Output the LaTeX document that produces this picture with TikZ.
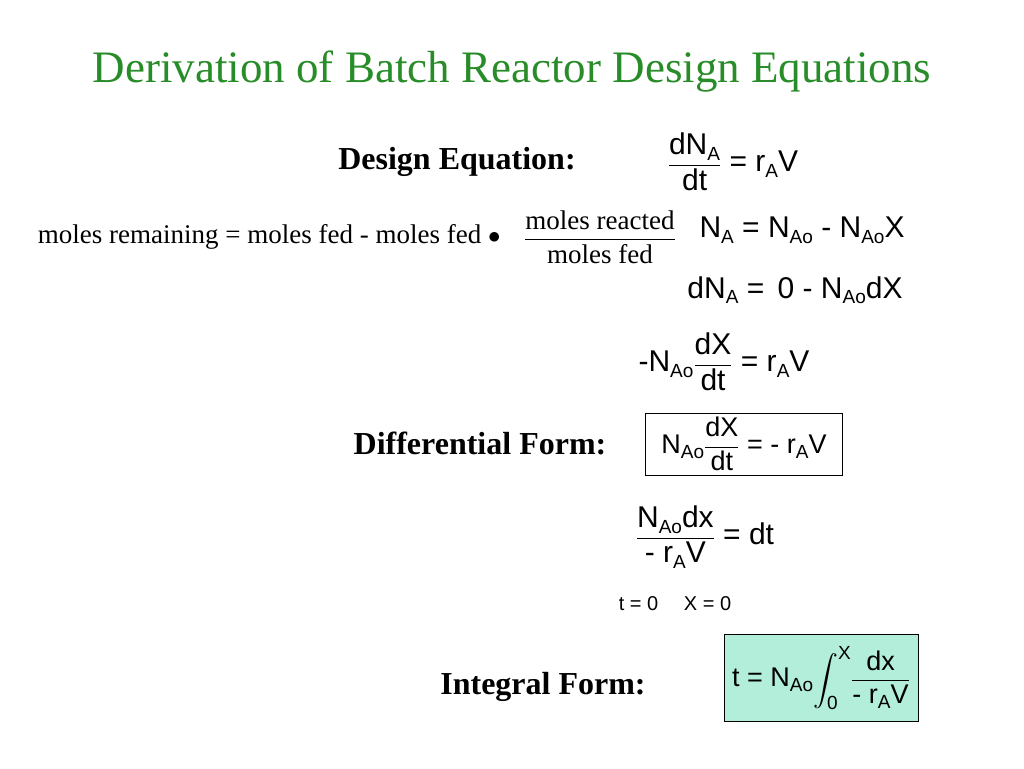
\documentclass[tikz,border=0pt]{standalone}
\usepackage{amsmath}
\usepackage{fontspec}
\setmainfont{Liberation Serif}
\newfontfamily\eqf{Liberation Sans}
\usetikzlibrary{positioning}
\definecolor{titlegreen}{RGB}{40,140,40}
\definecolor{intfill}{RGB}{178,238,218}
\newcommand{\sub}[1]{\raisebox{-0.35ex}{\fontsize{19}{19}\selectfont #1}}
\newcommand{\fr}[2]{\ensuremath{\dfrac{\text{#1}}{\text{#2}}}}
\tikzset{
  label/.style={font=\fontsize{32}{34}\selectfont\bfseries, anchor=center},
  eq/.style={font=\fontsize{30}{32}\selectfont\eqf, anchor=center, inner sep=2pt},
  boxeq/.style={eq, font=\fontsize{27}{29}\selectfont\eqf, draw, line width=1pt},
  words/.style={font=\fontsize{27}{29}\selectfont, anchor=center}
}
\begin{document}
\begin{tikzpicture}[x=1pt,y=-1pt]
\useasboundingbox (0,0) rectangle (1024,768);
\node[font=\fontsize{45}{48}\selectfont, text=titlegreen] (title) at (512,72) {Derivation of Batch Reactor Design Equations};

\node[label] (design) at (457,162) {Design Equation:};
\node[eq] (e1) at (733,162) {\fr{dN\sub{A}}{dt} = r\sub{A}V};

\node[words, anchor=east] (moles) at (504,237) {moles remaining = moles fed - moles fed $\bullet$};
\node[words] (ratio) at (600,237) {\ensuremath{\dfrac{\text{moles reacted}}{\text{moles fed}}}};
\node[eq] (e2) at (802,230) {N\sub{A} = N\sub{Ao} - N\sub{Ao}X};
\node[eq] (e3) at (795,290) {dN\sub{A} = \,0 - N\sub{Ao}dX};
\node[eq] (e4) at (724,362) {-N\sub{Ao}\fr{dX}{dt} = r\sub{A}V};

\node[label] (diff) at (480,443) {Differential Form:};
\node[boxeq, minimum width=197pt, minimum height=62pt] (e5) at (744,444) {N\sub{Ao}\fr{dX}{dt} = - r\sub{A}V};

\node[eq] (e6) at (705,537) {\fr{N\sub{Ao}dx}{- r\sub{A}V} = dt};
\node[eq, font=\fontsize{20}{20}\selectfont\eqf] (bounds) at (675,604) {t = 0\quad\ X = 0};

\node[label] (integ) at (543,687) {Integral Form:};
\node[boxeq, fill=intfill, minimum width=194pt, minimum height=87pt] (e7) at (821,678)
  {t = N\sub{Ao}\ensuremath{\displaystyle\int_{\text{\fontsize{19}{19}\selectfont 0}}^{\text{\fontsize{19}{19}\selectfont X}}}\fr{dx}{- r\sub{A}V}};
\end{tikzpicture}
\end{document}
